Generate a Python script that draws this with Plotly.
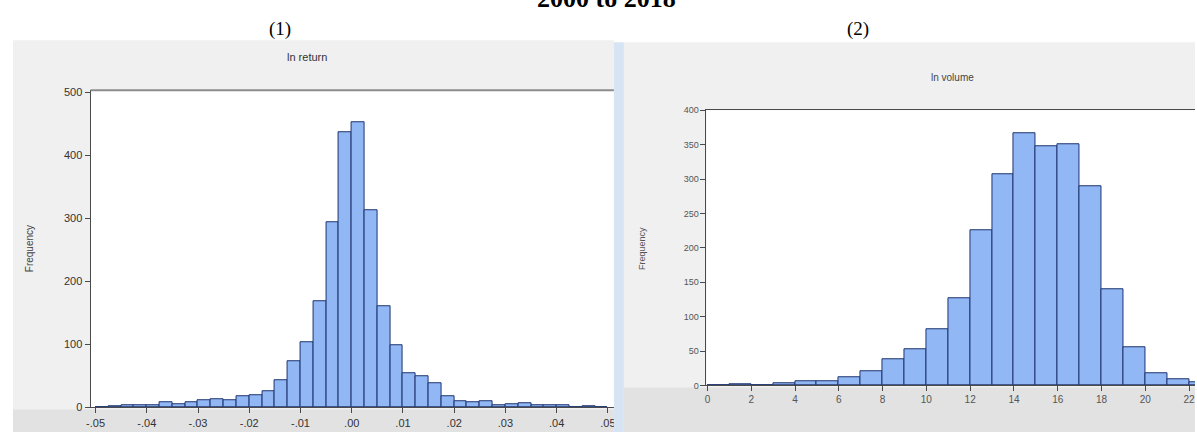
import plotly.graph_objects as go

W, H = 1197, 432

# ---- data ----
ret_bin_left = [-0.05 + 0.0025 * i for i in range(40)]
ret_counts = [1, 2, 3, 4, 4, 8, 5, 8, 11, 13, 12, 17, 20, 26, 43, 74, 104, 169, 294, 437,
              453, 312, 160, 99, 54, 50, 38, 18, 10, 8, 10, 3, 5, 6, 3, 4, 4, 0, 2, 0]
ret_bin_width = 0.0025
ret_tickvals = [-0.05, -0.04, -0.03, -0.02, -0.01, 0.0, 0.01, 0.02, 0.03, 0.04, 0.05]
ret_ticktext = ["-.05", "-.04", "-.03", "-.02", "-.01", ".00", ".01", ".02", ".03", ".04", ".05"]
ret_yticks = [0, 100, 200, 300, 400, 500]

vol_bin_left = list(range(0, 23))
vol_counts = [0, 2, 0, 3, 6, 6, 12, 21, 38, 52, 82, 126, 225, 307, 366, 348, 350, 289,
              140, 56, 18, 9, 5]
vol_bin_width = 1
vol_tickvals = [0, 2, 4, 6, 8, 10, 12, 14, 16, 18, 20, 22]
vol_ticktext = [str(v) for v in vol_tickvals]
vol_yticks = [0, 50, 100, 150, 200, 250, 300, 350, 400]

title_text = "2000 to 2018"
panel_labels = ["(1)", "(2)"]
chart_titles = ["ln return", "ln volume"]


def px(x):
    return x / W


def py(y):
    # small vertical calibration observed in the rendered page
    yc = (y - 4.8) / 0.974
    return 1 - yc / H


BAR_FILL = "#91b7f4"
BAR_LINE = "#1e3470"
AX = "#4a4a4a"
CHART_FONT = "Liberation Sans"

fig = go.Figure()

fig.add_trace(go.Bar(
    x=[b + ret_bin_width / 2 for b in ret_bin_left], y=ret_counts, width=ret_bin_width,
    marker=dict(color=BAR_FILL, line=dict(color=BAR_LINE, width=1)),
    xaxis="x", yaxis="y", showlegend=False, hoverinfo="skip"))

fig.add_trace(go.Bar(
    x=[b + vol_bin_width / 2 for b in vol_bin_left], y=vol_counts, width=vol_bin_width,
    marker=dict(color=BAR_FILL, line=dict(color=BAR_LINE, width=1)),
    xaxis="x2", yaxis="y2", showlegend=False, hoverinfo="skip"))

axis_common = dict(showgrid=False, zeroline=False, showline=True, linecolor=AX, linewidth=1,
                   ticks="outside", ticklen=5, tickcolor=AX, fixedrange=True)


def rect(x0, x1, y0, y1, color, layer="below"):
    return dict(type="rect", xref="paper", yref="paper", x0=px(x0), x1=px(x1),
                y0=py(y1), y1=py(y0), fillcolor=color, line=dict(width=0), layer=layer)


shapes = [
    # panel 1 background
    rect(9, 613, 40, 445, "#f0f0f0"),
    rect(9, 613, 409, 445, "#e2e2e2"),
    rect(87, 613, 90, 407, "white"),
    # panel 1 top frame line (grey, thicker)
    dict(type="line", xref="paper", yref="paper", x0=px(87), x1=px(613), y0=py(90), y1=py(90),
         line=dict(color="#8c8c8c", width=2), layer="above"),
    # panel 2 background
    rect(623, 1197, 42, 445, "#f0f0f0"),
    rect(623, 1197, 387, 445, "#e2e2e2"),
    rect(706, 1197, 110, 385, "white"),
    # window edge strip of panel 2
    rect(613, 623, 42, 445, "#d6e4f3", layer="above"),
]

annotations = [
    dict(text="<b>" + title_text + "</b>", x=px(606), y=py(15), xref="paper", yref="paper",
         xanchor="center", yanchor="bottom", showarrow=False,
         font=dict(family="Liberation Serif", size=26, color="black")),
    dict(text=panel_labels[0], x=px(277), y=py(29), xref="paper", yref="paper",
         xanchor="center", yanchor="middle", showarrow=False,
         font=dict(family="Liberation Serif", size=19, color="black")),
    dict(text=panel_labels[1], x=px(858), y=py(29), xref="paper", yref="paper",
         xanchor="center", yanchor="middle", showarrow=False,
         font=dict(family="Liberation Serif", size=19, color="black")),
    dict(text=chart_titles[0], x=px(305), y=py(57), xref="paper", yref="paper",
         xanchor="center", yanchor="middle", showarrow=False,
         font=dict(family=CHART_FONT, size=11, color="#333333")),
    dict(text=chart_titles[1], x=px(953), y=py(77), xref="paper", yref="paper",
         xanchor="center", yanchor="middle", showarrow=False,
         font=dict(family=CHART_FONT, size=10, color="#444444")),
    dict(text="Frequency", x=px(25), y=py(248), xref="paper", yref="paper", textangle=-90,
         xanchor="center", yanchor="middle", showarrow=False,
         font=dict(family=CHART_FONT, size=10, color="#444444")),
    dict(text="Frequency", x=px(642), y=py(248), xref="paper", yref="paper", textangle=-90,
         xanchor="center", yanchor="middle", showarrow=False,
         font=dict(family=CHART_FONT, size=9, color="#555555")),
]

fig.update_layout(
    width=W, height=H, margin=dict(l=0, r=0, t=0, b=0),
    paper_bgcolor="white", plot_bgcolor="white", bargap=0, barmode="overlay",
    shapes=shapes, annotations=annotations,
    xaxis=dict(**axis_common, mirror=False, domain=[px(87), px(613)], range=[-0.05097, 0.05117],
               tickvals=ret_tickvals, ticktext=ret_ticktext, anchor="y",
               tickfont=dict(family=CHART_FONT, size=11, color="#333333")),
    yaxis=dict(**axis_common, mirror=False, domain=[py(407), py(90)], range=[0, 503],
               tickvals=ret_yticks, anchor="x",
               tickfont=dict(family=CHART_FONT, size=11, color="#333333")),
    xaxis2=dict(**axis_common, mirror=True, domain=[px(706), 1], range=[-0.045, 22.27],
                tickvals=vol_tickvals, ticktext=vol_ticktext, anchor="y2",
                tickfont=dict(family=CHART_FONT, size=10, color="#555555")),
    yaxis2=dict(**axis_common, mirror=False, domain=[py(385), py(110)], range=[0, 400],
                tickvals=vol_yticks, anchor="x2",
                tickfont=dict(family=CHART_FONT, size=9, color="#555555")),
)

fig.write_html("out.html", config={"displayModeBar": False},
               post_script="document.body.style.margin='0';document.body.style.overflow='hidden';")
